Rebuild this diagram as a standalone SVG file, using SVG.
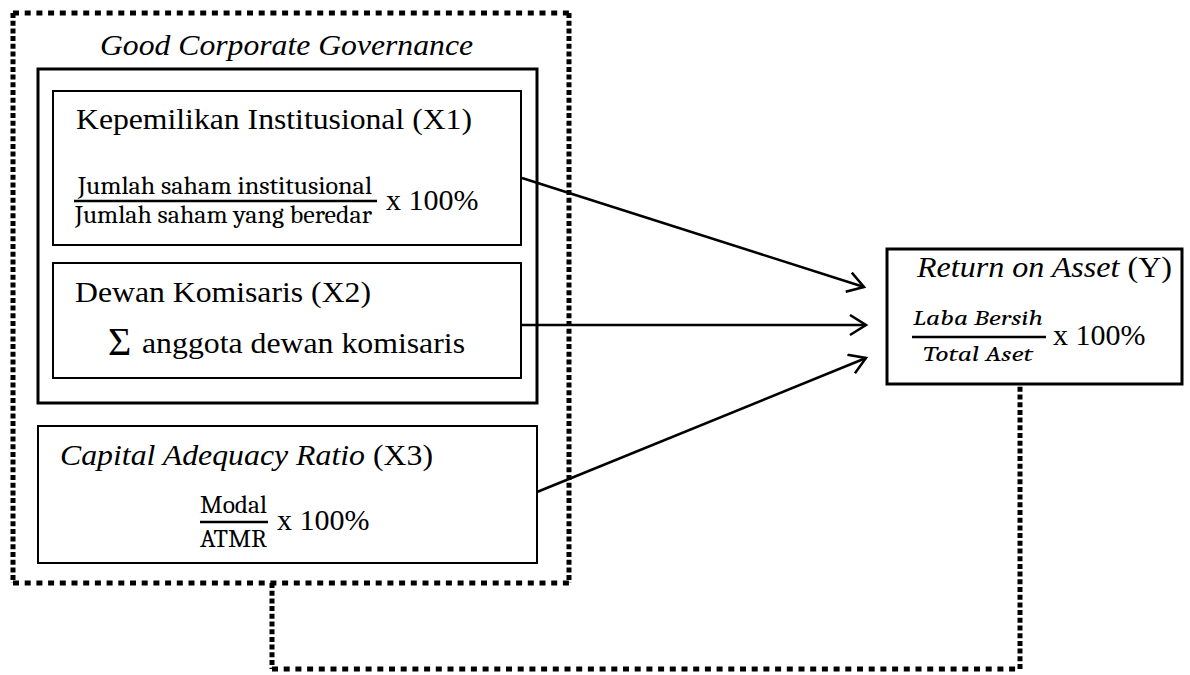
<svg xmlns="http://www.w3.org/2000/svg" width="1190" height="675" viewBox="0 0 1190 675">
<defs>
<style>
.t{font-size:30px;fill:#000}
.i{font-style:italic}
.m{font-size:25px;fill:#000}
.box{fill:#fff;stroke:#000;stroke-width:2}
.thick{stroke-width:3}
.bar{stroke:#000;stroke-width:2.5}
.dh{fill:none;stroke:#000;stroke-width:5;stroke-dasharray:6 5.7}
.dv{fill:none;stroke:#000;stroke-width:5;stroke-dasharray:5 2.7}
.arr{fill:none;stroke:#000;stroke-width:2.5;marker-end:url(#ah)}
</style>
<marker id="ah" markerUnits="userSpaceOnUse" markerWidth="24" markerHeight="24" refX="18" refY="11" orient="auto">
<path d="M2,1 L18,11 L2,21" fill="none" stroke="#000" stroke-width="2.5"/>
</marker>
</defs>
<rect width="1190" height="675" fill="#fff"/>

<g id="gcg">
<line class="dh" x1="13" y1="13" x2="569" y2="13"/>
<line class="dh" x1="13" y1="583" x2="569" y2="583"/>
<line class="dv" x1="13" y1="13" x2="13" y2="583"/>
<line class="dv" x1="569" y1="13" x2="569" y2="583"/>
<text class="t i" font-family="Liberation Serif" x="100" y="55" textLength="373" lengthAdjust="spacingAndGlyphs">Good Corporate Governance</text>
<rect class="box thick" x="38" y="69" width="499" height="334"/>
</g>

<g id="x1">
<rect class="box" x="53" y="91" width="468" height="154"/>
<text class="t" font-family="Liberation Serif" x="76" y="129" textLength="396" lengthAdjust="spacingAndGlyphs">Kepemilikan Institusional (X1)</text>
<text class="m" font-family="Caladea" x="78" y="194" textLength="294" lengthAdjust="spacingAndGlyphs">Jumlah saham institusional</text>
<line class="bar" x1="74" y1="201" x2="377" y2="201"/>
<text class="m" font-family="Caladea" x="75" y="223" textLength="297" lengthAdjust="spacingAndGlyphs">Jumlah saham yang beredar</text>
<text class="t" font-family="Liberation Serif" x="386" y="210">x 100%</text>
</g>

<g id="x2">
<rect class="box" x="53" y="263" width="468" height="115"/>
<text class="t" font-family="Liberation Serif" x="75" y="302" textLength="296" lengthAdjust="spacingAndGlyphs">Dewan Komisaris (X2)</text>
<text class="t" font-family="Liberation Serif" x="108" y="355" style="font-size:40px">Σ</text>
<text class="t" font-family="Liberation Serif" x="142" y="353" textLength="323" lengthAdjust="spacingAndGlyphs">anggota dewan komisaris</text>
</g>

<g id="x3">
<rect class="box" x="38" y="426" width="499" height="137"/>
<text class="t" font-family="Liberation Serif" x="60" y="465" textLength="373" lengthAdjust="spacingAndGlyphs"><tspan class="i">Capital Adequacy Ratio</tspan> (X3)</text>
<text class="m" font-family="Caladea" x="200" y="513" textLength="67" lengthAdjust="spacingAndGlyphs">Modal</text>
<line class="bar" x1="200" y1="522" x2="268" y2="522"/>
<text class="m" font-family="Caladea" x="200" y="547" textLength="67" lengthAdjust="spacingAndGlyphs">ATMR</text>
<text class="t" font-family="Liberation Serif" x="277" y="530">x 100%</text>
</g>

<g id="y">
<rect class="box thick" x="887" y="249" width="295" height="135"/>
<text class="t" font-family="Liberation Serif" x="917" y="277" textLength="255" lengthAdjust="spacingAndGlyphs" style="font-size:29px"><tspan class="i">Return on Asset</tspan> (Y)</text>
<text class="m i" font-family="Caladea" x="913" y="325" textLength="130" lengthAdjust="spacingAndGlyphs" style="font-size:21px">Laba Bersih</text>
<line class="bar" x1="912" y1="337" x2="1046" y2="337"/>
<text class="m i" font-family="Caladea" x="923" y="361" textLength="110" lengthAdjust="spacingAndGlyphs" style="font-size:21px">Total Aset</text>
<text class="t" font-family="Liberation Serif" x="1053" y="345">x 100%</text>
</g>

<g id="connectors">
<line class="arr" x1="522" y1="178" x2="864" y2="287"/>
<line class="arr" x1="522" y1="325" x2="866" y2="325"/>
<line class="arr" x1="537" y1="492" x2="866" y2="358"/>
<line class="dv" x1="272" y1="583" x2="272" y2="669"/>
<line class="dh" x1="272" y1="669" x2="1020" y2="669"/>
<line class="dv" x1="1020" y1="669" x2="1020" y2="384"/>
</g>
</svg>
